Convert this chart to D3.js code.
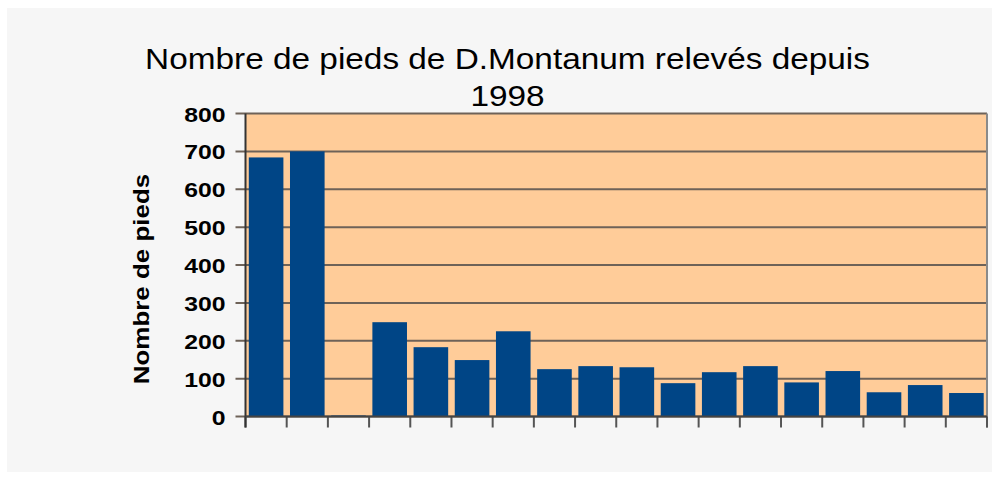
<!DOCTYPE html>
<html>
<head>
<meta charset="utf-8">
<script src="https://cdn.jsdelivr.net/npm/d3@7"></script>
<style>
  body { margin: 0; background: #ffffff; }
  svg { display: block; font-family: "Liberation Sans", Arial, sans-serif; }
</style>
</head>
<body>
<svg id="chart" width="995" height="479"></svg>
<script>
// values, one per year since 1998 (no labels shown)
const categories = d3.range(1, 19).map(String);
const counts = [684, 700, 0, 249, 183, 149, 225, 125, 133, 130, 88, 117, 133, 90, 120, 64, 83, 62];
const yTicks = [0, 100, 200, 300, 400, 500, 600, 700, 800];

const svg = d3.select("#chart");

const margin = { left: 245.5, right: 987, top: 113.5, bottom: 416.5 };

svg.append("rect")
  .attr("x", 7).attr("y", 8)
  .attr("width", 985).attr("height", 464)
  .attr("fill", "#f6f6f6");

const x = d3.scaleBand()
  .domain(categories)
  .range([margin.left, margin.right])
  .paddingInner(0.16)
  .paddingOuter(0.08);

const y = d3.scaleLinear()
  .domain([0, 800])
  .range([margin.bottom, margin.top]);

// plot area
svg.append("rect")
  .attr("x", margin.left).attr("y", margin.top)
  .attr("width", margin.right - margin.left)
  .attr("height", margin.bottom - margin.top)
  .attr("fill", "#ffcc99");

// gridlines
svg.append("g")
  .selectAll("line")
  .data(yTicks)
  .join("line")
  .attr("x1", margin.left - 10)
  .attr("x2", margin.right)
  .attr("y1", d => y(d))
  .attr("y2", d => y(d))
  .attr("stroke", "#6e6258")
  .attr("stroke-width", 2);

// right border
svg.append("line")
  .attr("x1", margin.right).attr("x2", margin.right)
  .attr("y1", margin.top).attr("y2", margin.bottom + 11)
  .attr("stroke", "#8a8a8a").attr("stroke-width", 2);

// bars
svg.append("g")
  .selectAll("rect")
  .data(counts)
  .join("rect")
  .attr("x", (d, i) => x(categories[i]))
  .attr("width", x.bandwidth())
  .attr("y", d => y(d) - (d === 0 ? 1 : 0))
  .attr("height", d => Math.max(1, y(0) - y(d)))
  .attr("fill", "#004586");

// x ticks at category boundaries
const bounds = d3.range(categories.length + 1)
  .map(i => margin.left + i * (margin.right - margin.left) / categories.length);

svg.append("g")
  .selectAll("line")
  .data(bounds)
  .join("line")
  .attr("x1", d => d).attr("x2", d => d)
  .attr("y1", margin.bottom)
  .attr("y2", margin.bottom + 11)
  .attr("stroke", "#555")
  .attr("stroke-width", 2);

// axes lines
svg.append("line")
  .attr("x1", margin.left).attr("x2", margin.left)
  .attr("y1", margin.top).attr("y2", margin.bottom + 11)
  .attr("stroke", "#333").attr("stroke-width", 2);

svg.append("line")
  .attr("x1", margin.left).attr("x2", margin.right)
  .attr("y1", margin.bottom).attr("y2", margin.bottom)
  .attr("stroke", "#444").attr("stroke-width", 2);

// y axis labels (text in the original is a bit stretched sideways)
const yAxis = d3.axisLeft(y)
  .tickValues(yTicks)
  .tickSize(0)
  .tickPadding(0);

const yg = svg.append("g")
  .attr("transform", `translate(${margin.left - 20},0)`)
  .call(yAxis);

yg.select(".domain").remove();
yg.selectAll("text")
  .attr("x", 0)
  .attr("transform", "scale(1.18,1)")
  .attr("font-family", "Liberation Sans, Arial, sans-serif")
  .attr("font-size", 21)
  .attr("font-weight", "bold")
  .attr("fill", "#000")
  .attr("dy", "0.36em");

// y axis title
svg.append("text")
  .attr("transform", "translate(149,279) rotate(-90) scale(1.18,1)")
  .attr("text-anchor", "middle")
  .attr("font-size", 22)
  .attr("font-weight", "bold")
  .text("Nombre de pieds");

// title
const title = svg.append("g")
  .attr("transform", "translate(507.5,0) scale(1.15,1)")
  .append("text")
  .attr("text-anchor", "middle")
  .attr("font-size", 29);

title.append("tspan")
  .attr("x", 0).attr("y", 69)
  .text("Nombre de pieds de D.Montanum relevés depuis");

title.append("tspan")
  .attr("x", 0).attr("y", 106)
  .text("1998");
</script>
</body>
</html>
